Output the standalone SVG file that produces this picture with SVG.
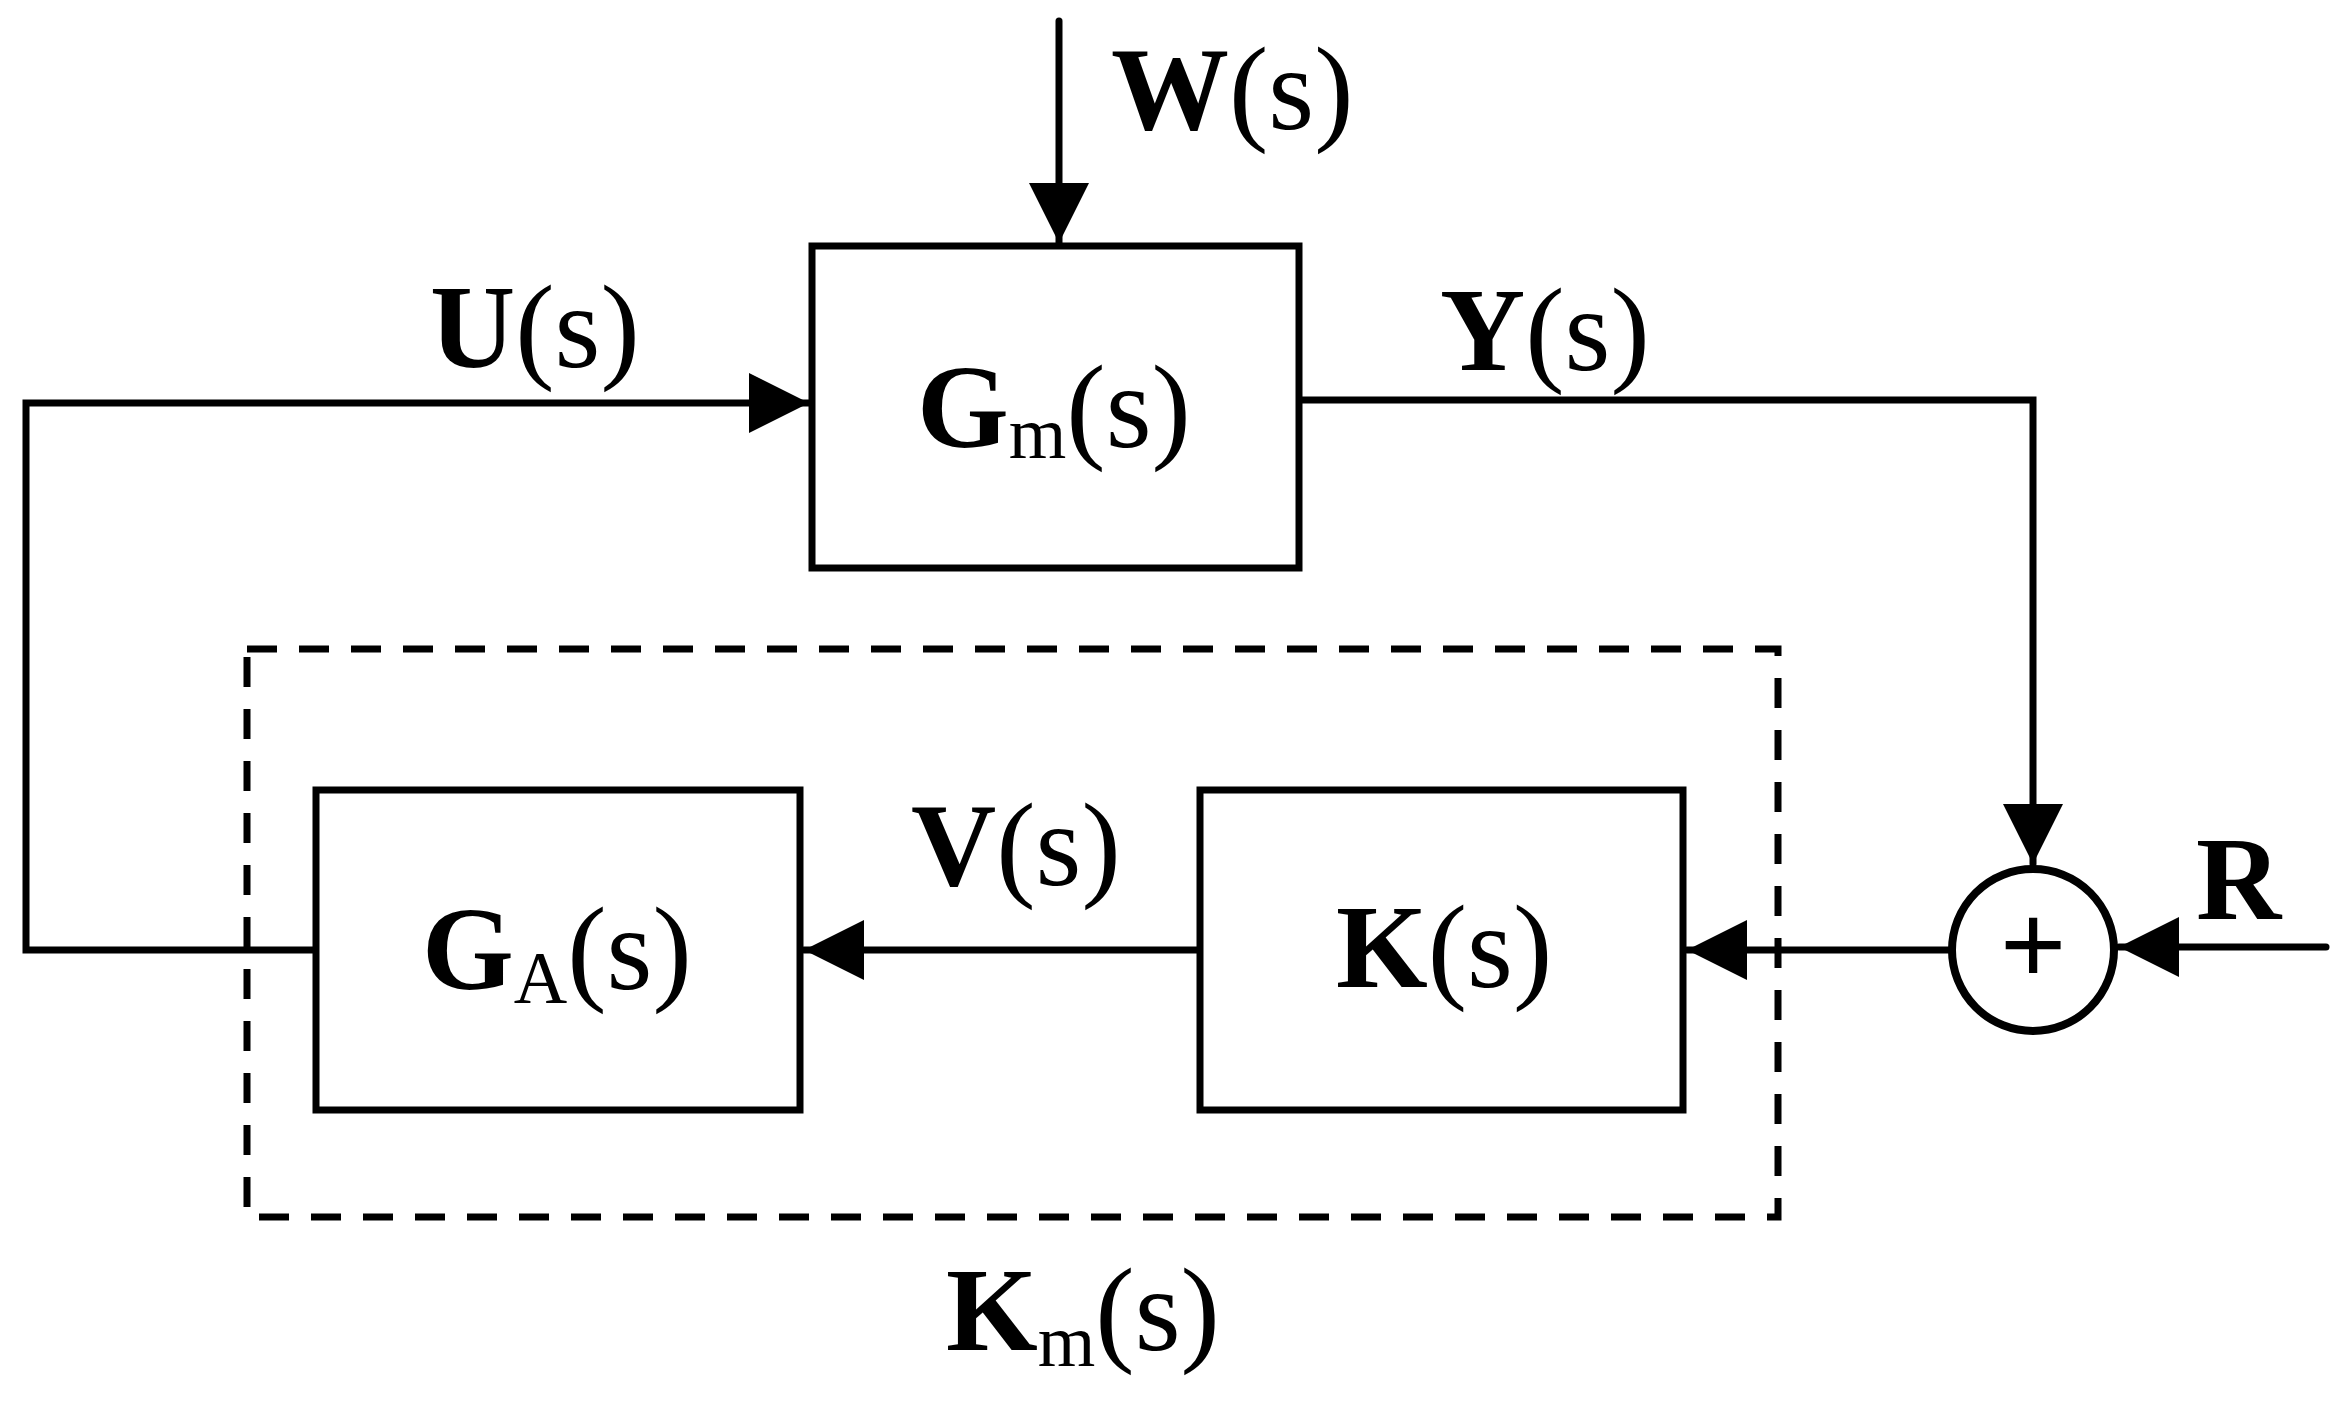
<svg xmlns="http://www.w3.org/2000/svg" width="2351" height="1402" viewBox="0 0 2351 1402">
<style>
.box{fill:#fff;stroke:#000;stroke-width:7}
.ln{fill:none;stroke:#000;stroke-width:7;stroke-linecap:round;stroke-linejoin:miter}
.dash{fill:none;stroke:#000;stroke-width:7;stroke-dasharray:30 22}
.t{font-family:"Liberation Serif","Times New Roman",serif;font-size:118px;fill:#000}
.b{font-weight:bold}
.sub{font-size:74px}
</style>
<defs>
<marker id="ah" markerUnits="userSpaceOnUse" markerWidth="62" markerHeight="62" refX="60" refY="30" orient="auto" viewBox="0 0 62 62">
<path d="M0,0 L60,30 L0,60 Z" fill="#000"/>
</marker>
</defs>
<rect width="2351" height="1402" fill="#fff"/>
<g id="km-group">
<rect class="dash" x="247" y="649" width="1531" height="568"/>
<text class="t" x="946" y="1350"><tspan class="b">K</tspan><tspan class="sub" dy="16">m</tspan><tspan dy="-16">(s)</tspan></text>
</g>
<g id="connectors">
<path class="ln" d="M1059,21 L1059,243" marker-end="url(#ah)"/>
<path class="ln" d="M316,950 L26,950 L26,403 L809,403" marker-end="url(#ah)"/>
<path class="ln" d="M1299,400 L2033,400 L2033,864" marker-end="url(#ah)"/>
<path class="ln" d="M2326,947 L2119,947" marker-end="url(#ah)"/>
<path class="ln" d="M1951,950 L1687,950" marker-end="url(#ah)"/>
<path class="ln" d="M1200,950 L804,950" marker-end="url(#ah)"/>
<text class="t" x="1111" y="129"><tspan class="b">W</tspan>(s)</text>
<text class="t" x="430" y="367"><tspan class="b">U</tspan>(s)</text>
<text class="t" x="1440" y="370"><tspan class="b">Y</tspan>(s)</text>
<text class="t" x="911" y="885"><tspan class="b">V</tspan>(s)</text>
<text class="t b" x="2196" y="919">R</text>
</g>
<g id="Gm">
<rect class="box" x="812" y="246" width="487" height="322"/>
<text class="t" x="917" y="447"><tspan class="b">G</tspan><tspan class="sub" dy="11">m</tspan><tspan dy="-11">(s)</tspan></text>
</g>
<g id="GA">
<rect class="box" x="316" y="790" width="484" height="320"/>
<text class="t" x="422" y="989"><tspan class="b">G</tspan><tspan class="sub" dy="14">A</tspan><tspan dy="-14">(s)</tspan></text>
</g>
<g id="K">
<rect class="box" x="1200" y="790" width="483" height="320"/>
<text class="t" x="1336" y="987"><tspan class="b">K</tspan>(s)</text>
</g>
<g id="sum">
<circle cx="2033" cy="950" r="81" fill="#fff" stroke="#000" stroke-width="8"/>
<text class="t b" x="2033" y="985" text-anchor="middle" font-size="112">+</text>
</g>
</svg>
